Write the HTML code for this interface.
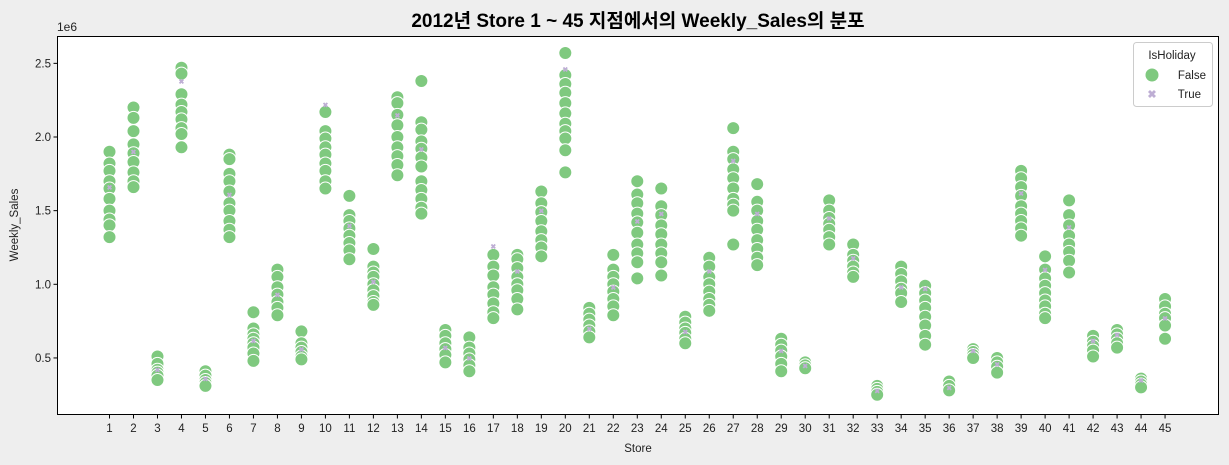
<!DOCTYPE html>
<html><head><meta charset="utf-8"><style>
body{margin:0;background:#eeeeee;width:1229px;height:465px;overflow:hidden}
svg{display:block;font-family:"Liberation Sans","Noto Sans CJK KR",sans-serif}
</style></head><body>
<svg id="chart" width="1229" height="465" xmlns="http://www.w3.org/2000/svg">
<rect x="0" y="0" width="1229" height="465" fill="#eeeeee"/>
<rect x="57.5" y="36.5" width="1161" height="378" fill="#ffffff"/>
<text x="638" y="27" text-anchor="middle" font-size="19" font-weight="bold" fill="#000">2012년 Store 1 ~ 45 지점에서의 Weekly_Sales의 분포</text>
<text x="57" y="31" font-size="12" fill="#222">1e6</text>
<text transform="translate(18,225) rotate(-90)" text-anchor="middle" font-size="11.5" fill="#222">Weekly_Sales</text>
<text x="638" y="452" text-anchor="middle" font-size="11.5" fill="#222">Store</text>
<g id="marks"></g>
<rect x="57.5" y="36.5" width="1161" height="378" fill="none" stroke="#000" stroke-width="1"/>
<g id="ticks"></g>
<g>
<rect x="1133.5" y="42.5" width="79" height="64" rx="3" fill="#fff" stroke="#ccc"/>
<text x="1172" y="59" text-anchor="middle" font-size="11.5" fill="#222">IsHoliday</text>
<circle cx="1152" cy="75" r="6.5" fill="#7fc97f"/>
<text x="1206" y="79" text-anchor="end" font-size="11.5" fill="#222">False</text>
<text x="1152" y="98" text-anchor="middle" font-size="11" font-weight="bold" fill="#beaed4">✖</text>
<text x="1201" y="98" text-anchor="end" font-size="11.5" fill="#222">True</text>
</g>
</svg>
<script>
const stores=[...Array(45)].map((_,i)=>i+1);
const salesFalse=[
[1.90,1.82,1.77,1.70,1.65,1.58,1.50,1.44,1.40,1.32],
[2.20,2.13,2.04,1.95,1.89,1.83,1.76,1.70,1.66],
[0.51,0.46,0.42,0.40,0.38,0.35],
[2.47,2.43,2.29,2.22,2.17,2.12,2.06,2.02,1.93],
[0.41,0.38,0.35,0.33,0.31],
[1.88,1.85,1.75,1.70,1.63,1.55,1.50,1.43,1.37,1.32],
[0.81,0.70,0.66,0.63,0.60,0.57,0.53,0.48],
[1.10,1.05,0.98,0.93,0.88,0.84,0.79],
[0.68,0.60,0.57,0.54,0.51,0.49],
[2.17,2.04,1.99,1.93,1.88,1.82,1.77,1.70,1.65],
[1.60,1.47,1.43,1.38,1.33,1.28,1.23,1.17],
[1.24,1.12,1.08,1.05,1.00,0.96,0.92,0.88,0.86],
[2.27,2.23,2.15,2.08,2.00,1.93,1.87,1.81,1.74],
[2.38,2.10,2.05,1.97,1.92,1.86,1.80,1.70,1.64,1.58,1.52,1.48],
[0.69,0.65,0.60,0.56,0.52,0.47],
[0.64,0.57,0.53,0.49,0.45,0.41],
[1.20,1.12,1.06,0.98,0.93,0.87,0.81,0.77],
[1.20,1.17,1.11,1.05,1.00,0.96,0.90,0.83],
[1.63,1.55,1.49,1.43,1.36,1.30,1.25,1.19],
[2.57,2.42,2.36,2.30,2.23,2.16,2.09,2.04,1.99,1.91,1.76],
[0.84,0.80,0.76,0.72,0.68,0.64],
[1.20,1.10,1.05,1.00,0.95,0.90,0.85,0.79],
[1.70,1.61,1.55,1.48,1.42,1.35,1.27,1.21,1.15,1.04],
[1.65,1.53,1.47,1.40,1.34,1.27,1.21,1.15,1.06],
[0.78,0.74,0.70,0.67,0.63,0.60],
[1.18,1.12,1.05,1.00,0.95,0.90,0.86,0.82],
[2.06,1.90,1.85,1.78,1.72,1.65,1.58,1.54,1.50,1.27],
[1.68,1.56,1.50,1.43,1.37,1.30,1.24,1.18,1.13],
[0.63,0.59,0.55,0.51,0.46,0.41],
[0.47,0.45,0.43],
[1.57,1.50,1.45,1.41,1.37,1.32,1.27],
[1.27,1.20,1.16,1.12,1.08,1.05],
[0.31,0.29,0.27,0.25],
[1.12,1.07,1.02,0.97,0.94,0.88],
[0.99,0.94,0.89,0.84,0.78,0.72,0.65,0.59],
[0.34,0.31,0.28],
[0.56,0.54,0.52,0.50],
[0.50,0.47,0.44,0.40],
[1.77,1.72,1.66,1.60,1.53,1.48,1.43,1.38,1.33],
[1.19,1.10,1.04,0.99,0.94,0.89,0.85,0.80,0.77],
[1.57,1.47,1.40,1.33,1.27,1.22,1.16,1.08],
[0.65,0.61,0.58,0.55,0.51],
[0.69,0.66,0.63,0.60,0.57],
[0.36,0.34,0.32,0.30],
[0.90,0.85,0.80,0.77,0.72,0.63]];
const salesTrue=[1.66,1.90,0.42,2.38,0.36,1.61,0.62,0.93,0.56,2.22,1.40,1.02,2.15,1.92,0.57,0.50,1.26,1.09,1.50,2.46,0.70,0.98,1.43,1.48,0.68,1.09,1.84,1.48,0.55,0.45,1.45,1.18,0.28,0.98,0.97,0.30,0.55,0.46,1.62,1.10,1.39,0.62,0.66,0.35,0.77];
const yTicks=[0.5,1.0,1.5,2.0,2.5];
const yTickLabels=["0.5","1.0","1.5","2.0","2.5"];
const NS="http://www.w3.org/2000/svg";
const xs=s=>109.5+(s-1)*23.99;
const ys=v=>137+(2.0-v)*147.3;
const marks=document.getElementById('marks'),ticks=document.getElementById('ticks');
function mk(tag,a,p){const e=document.createElementNS(NS,tag);for(const k in a)e.setAttribute(k,a[k]);p.appendChild(e);return e;}
stores.forEach((s,i)=>{
  salesFalse[i].forEach(v=>{
    const c=mk('circle',{cx:xs(s),cy:ys(v),r:6.5,fill:'#7fc97f',stroke:'#fff','stroke-width':1},marks);
    
    
  });
  const t=mk('text',{x:xs(s),y:ys(salesTrue[i])+3,'text-anchor':'middle','font-size':7,'font-weight':'bold',fill:'#beaed4'},marks);
  t.textContent='✖';
  
  
  const tk=mk('line',{x1:xs(s),x2:xs(s),y1:414.5,y2:418.5,stroke:'#000'},ticks);
  
  
  const tl=mk('text',{x:xs(s),y:432,'text-anchor':'middle','font-size':11.5,fill:'#222'},ticks);
  tl.textContent=String(s);
  
  
});
yTicks.forEach((v,i)=>{
  const tk=mk('line',{x1:53.5,x2:57.5,y1:ys(v),y2:ys(v),stroke:'#000'},ticks);
  
  
  const tl=mk('text',{x:51,y:ys(v)+4,'text-anchor':'end','font-size':11.5,fill:'#222'},ticks);
  tl.textContent=yTickLabels[i];
  
  
});
</script>
</body></html>
